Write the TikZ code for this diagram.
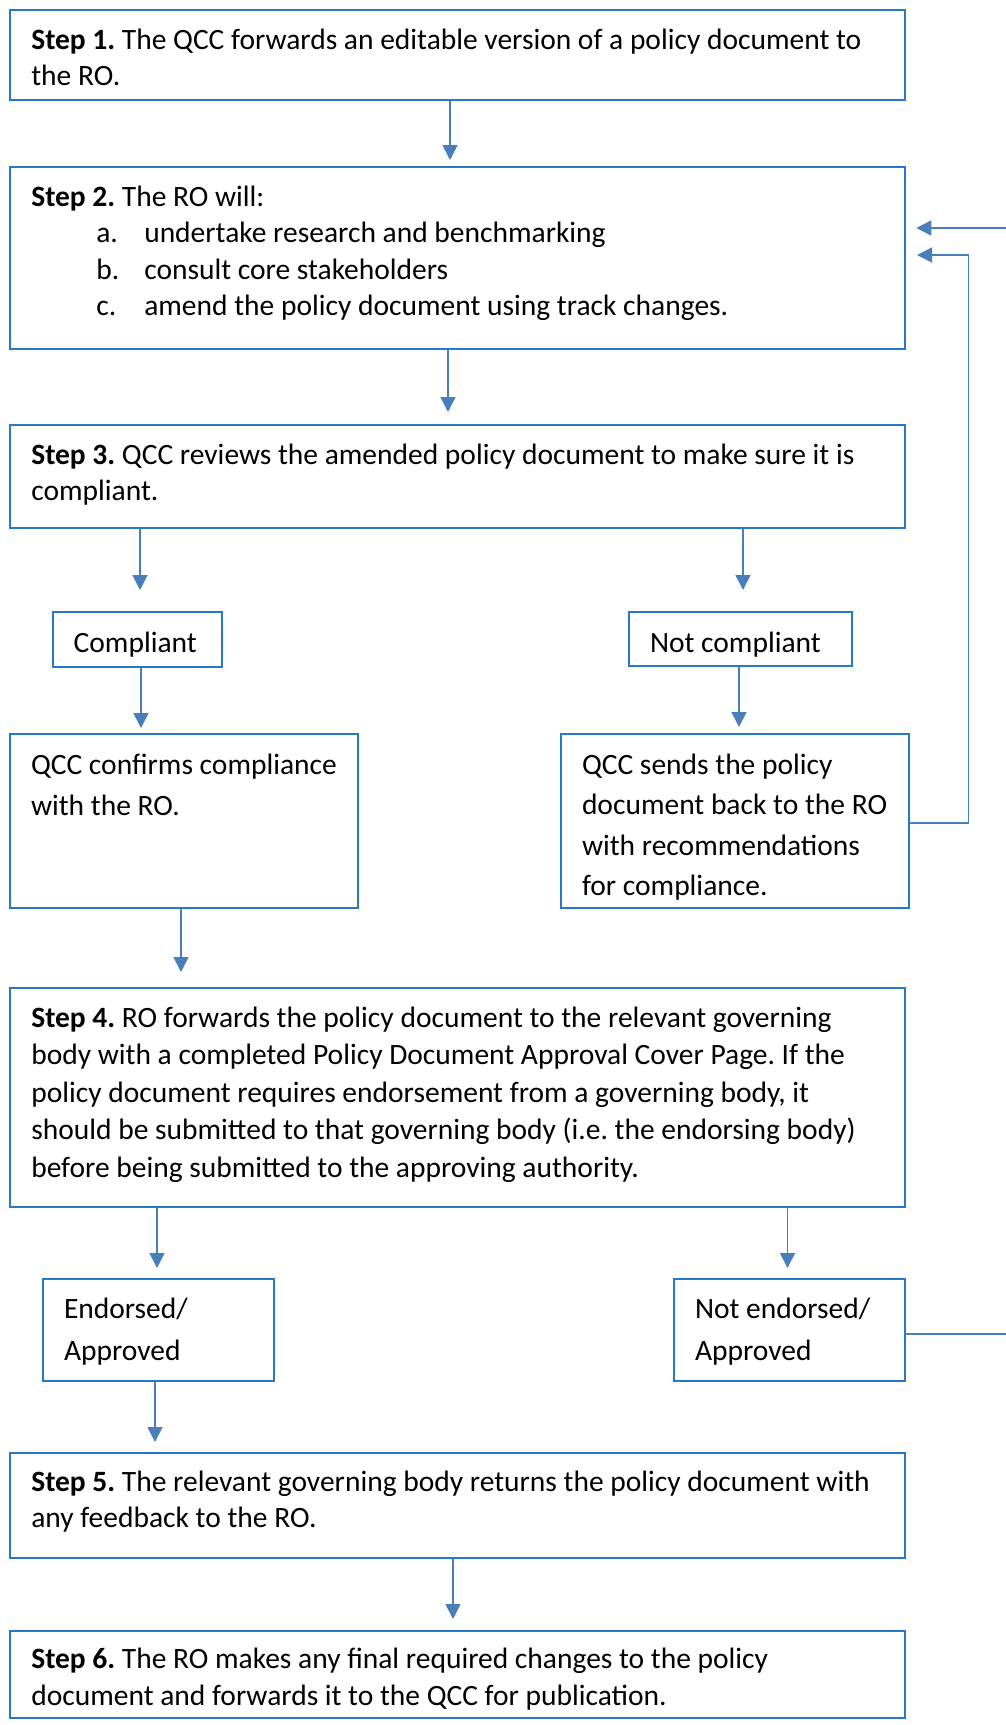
\documentclass[tikz,border=0pt]{standalone}
\usepackage{fontspec}
\setmainfont{Carlito}
\usetikzlibrary{arrows.meta,calc}
\frenchspacing

\definecolor{boxblue}{RGB}{39,120,200}
\definecolor{arrowblue}{RGB}{74,126,187}

% width, height, first baseline, line spacing, text
\newcommand{\flowtext}[5]{\parbox[c][#2pt][t]{#1pt}{\fontsize{29.5pt}{#4pt}\selectfont\raggedright\leftskip=21pt\rule{0pt}{#3pt}\ignorespaces#5}}
\newcommand{\itemlbl}[1]{\hspace*{65pt}\makebox[48pt][l]{#1}}

\begin{document}
\begin{tikzpicture}[x=1pt,y=-1pt,
  stepbox/.style={draw=boxblue, line width=2pt, inner sep=0pt, anchor=north west},
  flow/.style={draw=arrowblue, line width=1.6pt, -{Triangle[length=15pt,width=15pt]}},
  plainline/.style={draw=arrowblue, line width=1.6pt}]
\useasboundingbox (0,0) rectangle (1006,1725);

\node [stepbox] (s1) at (9.3,9.3) {\flowtext{895}{89.4}{39}{36.5}{\textbf{Step 1.} The QCC forwards an editable version of a policy document to\\ the RO.}};
\node [stepbox] (s2) at (9.3,166) {\flowtext{895}{182}{39}{36.5}{\textbf{Step 2.} The RO will:\\
  \itemlbl{a.}undertake research and benchmarking\\
  \itemlbl{b.}consult core stakeholders\\
  \itemlbl{c.}amend the policy document using track changes.}};
\node [stepbox] (s3) at (9.3,424) {\flowtext{895}{103}{39}{36.5}{\textbf{Step 3.} QCC reviews the amended policy document to make sure it is\\ compliant.}};

\node [stepbox] (comp) at (51.7,610.7) {\flowtext{169}{55}{40.3}{36.5}{Compliant}};
\node [stepbox] (ncomp) at (628,611) {\flowtext{223}{54}{40}{36.5}{Not compliant}};

\node [stepbox] (conf) at (9,733) {\flowtext{348}{174}{40}{41}{QCC confirms compliance\\ with the RO.}};
\node [stepbox] (send) at (560,733) {\flowtext{348}{174}{40}{40.5}{QCC sends the policy\\ document back to the RO\\ with recommendations\\ for compliance.}};

\node [stepbox] (s4) at (9.3,987) {\flowtext{895}{219}{39}{37.5}{\textbf{Step 4.} RO forwards the policy document to the relevant governing\\
  body with a completed Policy Document Approval Cover Page. If the\\
  policy document requires endorsement from a governing body, it\\
  should be submitted to that governing body (i.e. the endorsing body)\\
  before being submitted to the approving authority.}};

\node [stepbox] (endo) at (42,1278) {\flowtext{231}{102}{39}{42}{Endorsed/\\ Approved}};
\node [stepbox] (nendo) at (673,1278) {\flowtext{231}{102}{39}{42}{Not endorsed/\\ Approved}};

\node [stepbox] (s5) at (9.3,1452) {\flowtext{895}{105}{38}{36.5}{\textbf{Step 5.} The relevant governing body returns the policy document with\\ any feedback to the RO.}};
\node [stepbox] (s6) at (9.3,1630) {\flowtext{895}{87}{37}{37.5}{\textbf{Step 6.} The RO makes any final required changes to the policy\\ document and forwards it to the QCC for publication.}};

% arrows coming in from / going out past the right edge
\coordinate (offA) at (1006,228);
\coordinate (offB) at (1006,1334);

\draw [flow, shorten >=6pt] ($(s1.south)+(-7.8,0)$) -- ($(s2.north)+(-7.8,0)$);
\draw [flow, shorten >=12pt] ($(s2.south)+(-9.8,0)$) -- ($(s3.north)+(-9.8,0)$);
\draw [flow, shorten >=20.7pt] ($(comp.north |- s3.south)+(2.8,0)$) -- ($(comp.north)+(2.8,0)$);
\draw [flow, shorten >=21pt] ($(ncomp.north |- s3.south)+(2.5,0)$) -- ($(ncomp.north)+(2.5,0)$);
\draw [flow, shorten >=5pt] ($(comp.south)+(3.8,0)$) -- ($(comp.south |- conf.north)+(3.8,0)$);
\draw [flow, shorten >=6pt] ($(ncomp.south)+(-1.5,0)$) -- ($(ncomp.south |- send.north)+(-1.5,0)$);
\draw [flow, shorten >=15pt] ($(conf.south)+(-3,0)$) -- ($(conf.south |- s4.north)+(-3,0)$);
\draw [flow, shorten >=10pt] ($(endo.north |- s4.south)+(-1.5,0)$) -- ($(endo.north)+(-1.5,0)$);
\draw [flow, shorten >=10pt] ($(nendo.north |- s4.south)+(-2,0)$) -- ($(nendo.north)+(-2,0)$);
\draw [flow, shorten >=10pt] ($(endo.south)+(-3.5,0)$) -- ($(endo.south |- s5.north)+(-3.5,0)$);
\draw [flow, shorten >=11pt] ($(s5.south)+(-4.8,0)$) -- ($(s6.north)+(-4.8,0)$);

% back to step 2
\draw [flow] ($(send.east)+(0,2)$) -| ($(s2.east)+(62,-3)$) -- ($(s2.east)+(10.7,-3)$);
\draw [flow, shorten >=10pt] (offA) -- (offA -| s2.east);
\draw [plainline] (nendo.east |- offB) -- (offB);
\end{tikzpicture}
\end{document}
